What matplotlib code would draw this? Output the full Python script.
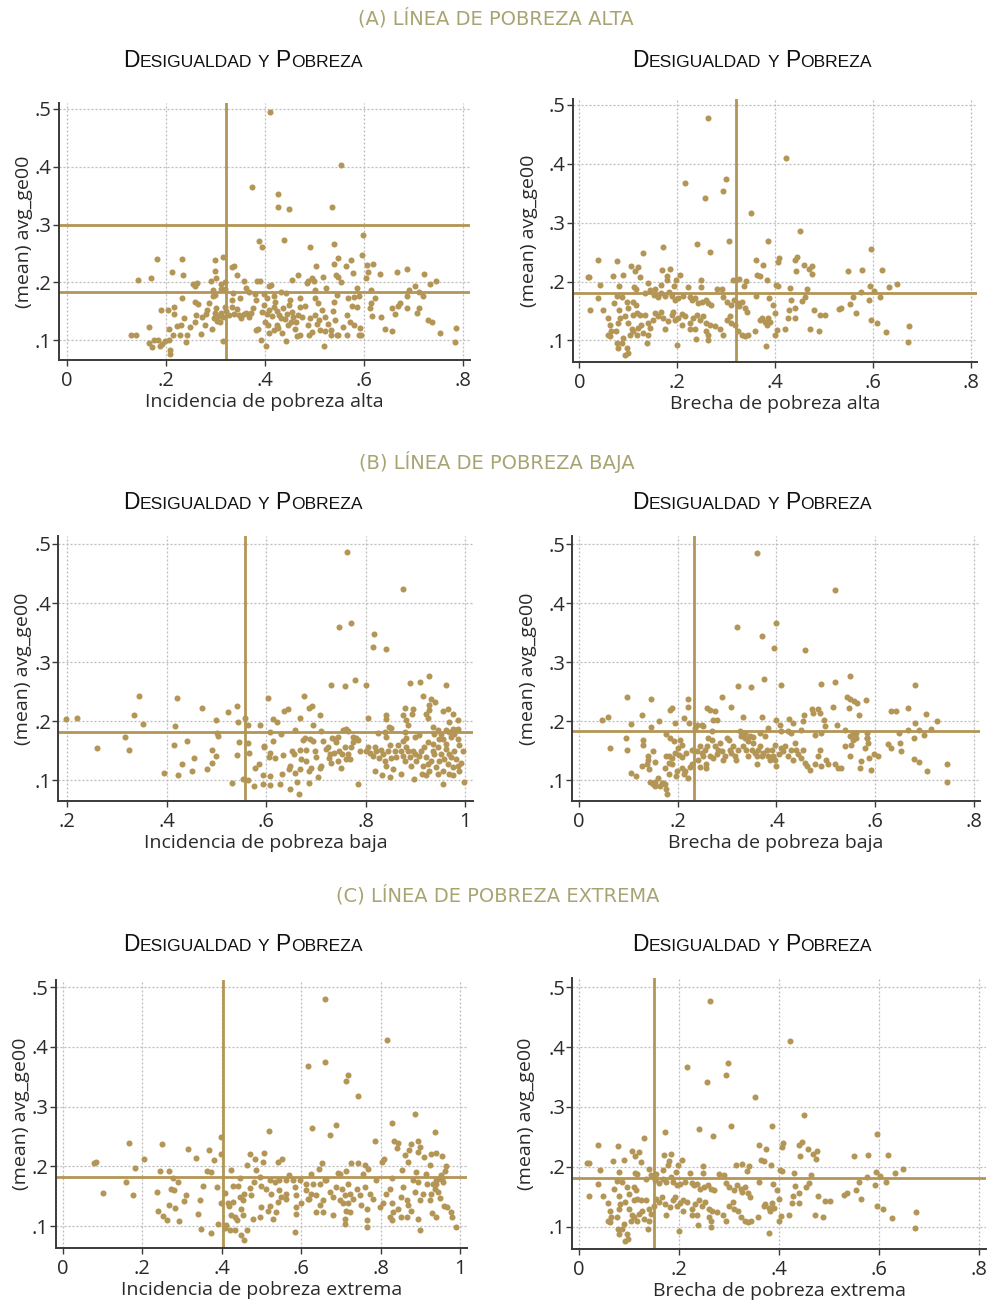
import matplotlib
matplotlib.use("Agg")
import matplotlib.pyplot as plt

# ---------------- data ----------------
ytick_vals = [0.1, 0.2, 0.3, 0.4, 0.5]
ytick_labels = [".1", ".2", ".3", ".4", ".5"]
xticks_gap = [0, 0.2, 0.4, 0.6, 0.8]
xticks_gap_labels = ["0", ".2", ".4", ".6", ".8"]
xticks_inc_alta = [0, 0.2, 0.4, 0.6, 0.8]
xticks_inc_alta_labels = ["0", ".2", ".4", ".6", ".8"]
xticks_inc_baja = [0.2, 0.4, 0.6, 0.8, 1.0]
xticks_inc_baja_labels = [".2", ".4", ".6", ".8", "1"]
xticks_inc_ext = [0, 0.2, 0.4, 0.6, 0.8, 1.0]
xticks_inc_ext_labels = ["0", ".2", ".4", ".6", ".8", "1"]

row_titles = ["(A) LÍNEA DE POBREZA ALTA", "(B) LÍNEA DE POBREZA BAJA", "(C) LÍNEA DE POBREZA EXTREMA"]
xlabels = ["Incidencia de pobreza alta", "Brecha de pobreza alta",
           "Incidencia de pobreza baja", "Brecha de pobreza baja",
           "Incidencia de pobreza extrema", "Brecha de pobreza extrema"]
ylabel = "(mean) avg_ge00"

# reference lines (vertical = mean of x, horizontal = mean of y)
alta_inc_v, alta_inc_h = 0.322, [0.183, 0.30]
alta_gap_v, alta_gap_h = 0.320, [0.180]
baja_inc_v, baja_inc_h = 0.557, [0.182]
baja_gap_v, baja_gap_h = 0.234, [0.183]
ext_inc_v, ext_inc_h = 0.403, [0.183]
ext_gap_v, ext_gap_h = 0.151, [0.182]

alta_inc_pts = [
    (0.41,0.495),(0.554,0.403),(0.374,0.365),(0.426,0.353),(0.426,0.33),(0.448,0.327),(0.535,0.33),
    (0.597,0.282),(0.387,0.272),(0.393,0.262),(0.438,0.273),(0.49,0.262),(0.54,0.267),
    (0.182,0.241),(0.232,0.24),(0.299,0.238),(0.314,0.244),(0.334,0.226),(0.338,0.228),(0.299,0.219),
    (0.211,0.218),(0.235,0.212),(0.144,0.205),(0.17,0.208),(0.3,0.207),(0.29,0.202),(0.255,0.197),
    (0.262,0.199),(0.258,0.193),(0.31,0.198),(0.318,0.2),(0.343,0.213),(0.357,0.203),(0.384,0.202),
    (0.389,0.203),(0.408,0.193),(0.411,0.196),(0.455,0.205),(0.466,0.212),(0.484,0.199),(0.486,0.203),
    (0.494,0.208),(0.499,0.203),(0.502,0.228),(0.516,0.209),(0.543,0.212),(0.548,0.209),(0.553,0.2),
    (0.54,0.232),(0.548,0.242),(0.564,0.229),(0.573,0.238),(0.577,0.217),(0.595,0.247),(0.605,0.23),
    (0.618,0.232),(0.603,0.208),(0.607,0.218),(0.632,0.215),(0.667,0.218),(0.687,0.223),(0.722,0.215),
    (0.733,0.197),(0.745,0.202),(0.703,0.193),(0.691,0.187),(0.71,0.183),
    (0.294,0.187),(0.298,0.178),(0.294,0.177),(0.31,0.188),(0.319,0.189),(0.232,0.173),(0.259,0.166),
    (0.264,0.162),(0.336,0.181),(0.334,0.17),(0.349,0.173),(0.362,0.19),(0.367,0.184),(0.38,0.18),
    (0.382,0.17),(0.397,0.18),(0.403,0.173),(0.417,0.176),(0.421,0.167),(0.432,0.183),(0.443,0.181),
    (0.451,0.17),(0.471,0.173),(0.5,0.187),(0.501,0.173),(0.506,0.164),(0.523,0.19),(0.539,0.167),
    (0.546,0.178),(0.567,0.173),(0.58,0.174),(0.585,0.19),(0.589,0.177),(0.614,0.187),(0.622,0.173),
    (0.614,0.164),(0.687,0.177),(0.72,0.176),
    (0.189,0.153),(0.204,0.152),(0.215,0.158),(0.216,0.145),(0.166,0.123),(0.129,0.11),(0.139,0.11),
    (0.206,0.119),(0.223,0.124),(0.213,0.109),(0.165,0.095),(0.172,0.088),(0.175,0.101),(0.184,0.101),
    (0.188,0.091),(0.191,0.094),(0.198,0.098),(0.205,0.1),(0.208,0.083),(0.208,0.077),(0.229,0.11),
    (0.231,0.126),(0.237,0.138),(0.24,0.097),(0.243,0.109),(0.249,0.123),(0.259,0.132),(0.26,0.144),
    (0.27,0.111),(0.273,0.141),(0.278,0.127),(0.281,0.145),(0.283,0.152),(0.287,0.164),(0.292,0.12),
    (0.296,0.138),(0.299,0.147),(0.301,0.155),(0.303,0.133),(0.306,0.142),(0.308,0.131),(0.311,0.148),
    (0.314,0.14),(0.315,0.098),(0.318,0.158),(0.322,0.151),(0.328,0.144),(0.333,0.158),(0.337,0.146),
    (0.344,0.154),(0.347,0.144),(0.351,0.139),(0.357,0.145),(0.361,0.148),(0.367,0.141),(0.372,0.148),
    (0.376,0.155),(0.381,0.117),(0.385,0.12),
    (0.393,0.149),(0.398,0.161),(0.403,0.145),(0.408,0.152),(0.413,0.142),(0.419,0.158),(0.424,0.151),
    (0.428,0.144),(0.432,0.138),(0.437,0.155),(0.444,0.146),(0.448,0.161),(0.454,0.149),(0.457,0.141),
    (0.462,0.131),(0.467,0.144),(0.471,0.158),(0.481,0.16),(0.4,0.131),(0.405,0.126),(0.408,0.112),
    (0.417,0.117),(0.424,0.127),(0.427,0.122),(0.434,0.113),(0.44,0.137),(0.447,0.126),(0.453,0.132),
    (0.461,0.12),(0.464,0.108),(0.471,0.109),(0.474,0.141),(0.486,0.126),(0.491,0.138),(0.494,0.115),
    (0.501,0.144),(0.504,0.129),(0.508,0.135),(0.511,0.117),(0.514,0.152),(0.521,0.141),(0.528,0.129),
    (0.533,0.117),(0.538,0.151),(0.541,0.135),(0.548,0.109),(0.558,0.123),(0.565,0.144),(0.572,0.132),
    (0.576,0.16),(0.579,0.127),(0.585,0.158),(0.589,0.109),(0.592,0.122),(0.612,0.155),(0.615,0.142),
    (0.634,0.141),(0.642,0.12),(0.656,0.116),(0.657,0.155),(0.663,0.145),(0.668,0.16),(0.673,0.164),
    (0.686,0.156),(0.707,0.148),(0.71,0.155),(0.73,0.135),(0.737,0.131),(0.754,0.113),(0.786,0.122),
    (0.784,0.097),(0.52,0.09),(0.391,0.101),(0.402,0.091),(0.442,0.098),(0.489,0.109),(0.521,0.116),
    (0.533,0.109),(0.545,0.109),(0.566,0.11),(0.593,0.109),
]

alta_gap_pts = [
    (0.263,0.477),(0.423,0.41),(0.217,0.367),(0.299,0.374),(0.294,0.353),(0.257,0.342),(0.352,0.316),
    (0.451,0.286),(0.305,0.269),(0.386,0.269),(0.24,0.263),(0.172,0.258),(0.268,0.251),(0.131,0.248),
    (0.039,0.237),(0.078,0.235),(0.106,0.226),(0.121,0.225),(0.113,0.218),(0.596,0.255),
    (0.361,0.237),(0.375,0.229),(0.364,0.212),(0.37,0.209),(0.384,0.203),(0.408,0.24),(0.407,0.233),
    (0.44,0.237),(0.446,0.241),(0.459,0.229),(0.469,0.221),(0.476,0.226),(0.475,0.213),(0.442,0.218),
    (0.55,0.218),(0.578,0.22),(0.619,0.219),(0.649,0.196),(0.633,0.19),(0.594,0.192),(0.576,0.183),
    (0.603,0.184),(0.615,0.174),(0.592,0.169),(0.56,0.174),(0.554,0.162),(0.565,0.146),(0.536,0.156),
    (0.531,0.153),(0.596,0.135),(0.608,0.129),(0.626,0.115),(0.675,0.124),(0.672,0.097),
    (0.479,0.152),(0.492,0.143),(0.502,0.143),(0.472,0.119),(0.489,0.116),
    (0.017,0.207),(0.02,0.207),(0.042,0.194),(0.081,0.192),(0.038,0.172),(0.021,0.152),(0.049,0.151),
    (0.068,0.209),(0.09,0.212),(0.124,0.208),(0.112,0.19),(0.116,0.188),(0.141,0.197),(0.155,0.188),
    (0.168,0.194),(0.17,0.22),(0.185,0.221),(0.18,0.21),(0.179,0.203),(0.198,0.203),(0.206,0.211),
    (0.194,0.192),(0.223,0.19),(0.248,0.202),(0.248,0.19),(0.281,0.188),(0.291,0.187),(0.314,0.203),
    (0.327,0.204),(0.337,0.193),(0.341,0.201),(0.403,0.194),(0.407,0.193),(0.431,0.189),(0.465,0.187),
    (0.077,0.176),(0.087,0.174),(0.097,0.166),(0.11,0.166),(0.115,0.161),(0.1,0.155),(0.081,0.151),
    (0.07,0.163),
    (0.134,0.18),(0.144,0.186),(0.153,0.178),(0.161,0.173),(0.168,0.18),(0.175,0.175),(0.184,0.183),
    (0.189,0.175),(0.196,0.169),(0.202,0.172),(0.213,0.175),(0.226,0.173),(0.23,0.169),(0.236,0.172),
    (0.243,0.163),(0.25,0.166),(0.259,0.169),(0.264,0.163),(0.27,0.161),
    (0.294,0.173),(0.301,0.166),(0.311,0.161),(0.317,0.169),(0.324,0.163),(0.327,0.158),(0.332,0.166),
    (0.339,0.156),(0.342,0.149),
    (0.361,0.175),(0.388,0.172),(0.396,0.161),(0.4,0.147),(0.386,0.139),(0.373,0.138),(0.38,0.131),
    (0.383,0.127),(0.39,0.131),(0.37,0.134),(0.4,0.109),(0.405,0.118),(0.42,0.119),(0.427,0.139),
    (0.429,0.152),(0.441,0.156),(0.441,0.139),(0.461,0.173),(0.455,0.167),(0.433,0.168),
    (0.059,0.139),(0.063,0.127),(0.065,0.116),(0.063,0.107),(0.058,0.11),(0.08,0.13),(0.076,0.116),
    (0.083,0.138),(0.093,0.141),(0.1,0.13),(0.107,0.119),(0.104,0.11),(0.09,0.104),(0.087,0.096),
    (0.078,0.096),(0.08,0.087),(0.097,0.088),(0.099,0.079),(0.093,0.076),(0.11,0.116),(0.117,0.11),
    (0.121,0.121),(0.127,0.127),(0.131,0.113),(0.138,0.096),(0.141,0.11),(0.11,0.144),(0.117,0.147),
    (0.124,0.144),(0.134,0.144),(0.14,0.13),(0.144,0.121),(0.151,0.134),(0.155,0.147),(0.161,0.141),
    (0.167,0.149),(0.172,0.138),(0.175,0.119),(0.182,0.133),(0.189,0.144),(0.192,0.149),(0.196,0.135),
    (0.202,0.139),(0.209,0.145),(0.216,0.141),(0.226,0.13),(0.233,0.138),(0.24,0.144),(0.247,0.135),
    (0.253,0.141),(0.26,0.13),(0.267,0.127),(0.26,0.116),(0.264,0.11),(0.236,0.119),(0.226,0.119),
    (0.209,0.127),(0.2,0.092),(0.238,0.103),(0.264,0.1),(0.277,0.124),(0.288,0.119),(0.294,0.11),
    (0.301,0.135),(0.308,0.141),(0.311,0.13),(0.318,0.126),(0.325,0.116),(0.332,0.11),(0.339,0.107),
    (0.345,0.11),(0.359,0.116),(0.381,0.09),
]

baja_inc_pts = [
    (0.763,0.487),(0.875,0.424),(0.747,0.359),(0.771,0.367),(0.817,0.348),(0.815,0.326),(0.84,0.322),
    (0.731,0.261),(0.758,0.259),(0.779,0.27),(0.8,0.262),(0.889,0.264),(0.91,0.266),(0.927,0.276),
    (0.961,0.262),
    (0.197,0.203),(0.221,0.206),(0.26,0.154),(0.316,0.173),(0.325,0.151),(0.335,0.211),(0.345,0.242),
    (0.353,0.196),(0.395,0.113),(0.414,0.16),(0.417,0.192),(0.42,0.239),(0.422,0.109),(0.43,0.127),
    (0.442,0.167),(0.452,0.116),(0.456,0.137),(0.472,0.222),(0.481,0.12),(0.492,0.151),(0.492,0.13),
    (0.499,0.202),(0.499,0.141),(0.502,0.18),(0.504,0.175),(0.524,0.216),(0.532,0.096),(0.541,0.226),
    (0.541,0.143),(0.543,0.199),(0.546,0.165),(0.558,0.205),(0.554,0.103),(0.564,0.1),(0.564,0.193),
    (0.564,0.164),(0.566,0.146),(0.576,0.091),(0.578,0.121),(0.586,0.128),(0.588,0.194),(0.593,0.094),
    (0.595,0.158),(0.594,0.109),
    (0.604,0.239),(0.677,0.242),(0.635,0.217),(0.644,0.22),(0.687,0.222),(0.692,0.226),(0.708,0.21),
    (0.613,0.203),(0.622,0.199),(0.667,0.205),(0.657,0.185),(0.695,0.193),(0.711,0.183),(0.607,0.182),
    (0.629,0.179),(0.613,0.166),(0.596,0.157),(0.607,0.147),(0.605,0.139),(0.618,0.138),(0.633,0.143),
    (0.632,0.111),(0.645,0.119),(0.648,0.125),(0.651,0.15),(0.655,0.145),(0.668,0.151),(0.671,0.136),
    (0.675,0.169),(0.678,0.172),(0.681,0.151),(0.688,0.17),(0.695,0.167),(0.698,0.15),(0.701,0.139),
    (0.708,0.121),(0.711,0.125),(0.715,0.167),(0.72,0.153),(0.725,0.156),(0.728,0.145),(0.733,0.172),
    (0.738,0.17),(0.741,0.165),(0.745,0.133),(0.747,0.15),(0.751,0.121),(0.753,0.145),(0.758,0.156),
    (0.761,0.136),(0.765,0.145),(0.768,0.136),(0.771,0.156),(0.775,0.165),(0.78,0.172),(0.785,0.169),
    (0.788,0.15),(0.785,0.093),(0.755,0.186),(0.76,0.187),(0.765,0.183),(0.775,0.174),(0.745,0.174),
    (0.731,0.129),(0.727,0.138),(0.736,0.146),(0.681,0.133),(0.691,0.121),(0.687,0.115),(0.669,0.119),
    (0.658,0.113),(0.661,0.098),(0.647,0.085),(0.665,0.077),(0.628,0.093),(0.608,0.107),(0.607,0.092),
    (0.705,0.105),(0.686,0.096),
    (0.805,0.205),(0.841,0.21),(0.841,0.203),(0.846,0.191),(0.851,0.189),(0.825,0.18),(0.838,0.182),
    (0.841,0.174),(0.875,0.21),(0.879,0.222),(0.895,0.22),(0.881,0.202),(0.885,0.193),(0.893,0.213),
    (0.875,0.166),(0.878,0.182),(0.881,0.172),(0.898,0.174),(0.908,0.176),(0.915,0.242),(0.931,0.237),
    (0.94,0.233),(0.921,0.213),(0.925,0.205),(0.928,0.219),(0.935,0.19),(0.938,0.179),(0.945,0.185),
    (0.955,0.218),(0.965,0.22),(0.975,0.213),(0.968,0.199),(0.985,0.202),(0.981,0.185),(0.978,0.179),
    (0.967,0.182),(0.951,0.179),(0.948,0.17),(0.956,0.17),(0.971,0.173),(0.928,0.227),
    (0.801,0.15),(0.805,0.156),(0.809,0.146),(0.815,0.142),(0.818,0.156),(0.821,0.15),(0.827,0.138),
    (0.831,0.151),(0.835,0.145),(0.838,0.133),(0.841,0.125),(0.845,0.15),(0.848,0.159),(0.851,0.138),
    (0.855,0.119),(0.858,0.15),(0.861,0.139),(0.865,0.159),(0.871,0.15),(0.875,0.142),(0.878,0.133),
    (0.881,0.156),(0.885,0.15),(0.888,0.139),(0.891,0.125),(0.895,0.15),(0.898,0.145),(0.901,0.133),
    (0.908,0.142),(0.911,0.15),(0.915,0.125),(0.918,0.156),(0.921,0.139),(0.925,0.127),(0.928,0.116),
    (0.931,0.133),(0.935,0.15),(0.938,0.145),(0.941,0.122),(0.945,0.156),(0.948,0.133),(0.951,0.145),
    (0.955,0.116),(0.958,0.136),(0.961,0.153),(0.965,0.127),(0.968,0.145),(0.971,0.139),(0.975,0.122),
    (0.978,0.15),(0.981,0.136),(0.985,0.125),(0.988,0.116),(0.991,0.13),(0.995,0.15),(0.998,0.097),
    (0.956,0.094),(0.896,0.103),(0.87,0.11),(0.848,0.105),(0.833,0.109),(0.818,0.116),(0.968,0.11),
    (0.975,0.109),(0.921,0.109),(0.913,0.111),(0.945,0.111),(0.935,0.162),(0.925,0.165),(0.961,0.162),
    (0.988,0.159),(0.985,0.17),(0.975,0.187),(0.985,0.187),(0.961,0.185),
]

baja_gap_pts = [
    (0.361,0.486),(0.518,0.423),(0.321,0.359),(0.371,0.345),(0.398,0.366),(0.394,0.324),(0.457,0.321),
    (0.374,0.271),(0.323,0.26),(0.348,0.258),(0.409,0.262),(0.489,0.264),(0.518,0.266),(0.549,0.276),
    (0.68,0.262),(0.744,0.127),(0.744,0.098),
    (0.098,0.242),(0.147,0.238),(0.048,0.203),(0.059,0.207),(0.106,0.196),(0.128,0.211),(0.163,0.2),
    (0.146,0.19),(0.064,0.154),(0.095,0.172),(0.097,0.152),(0.131,0.168),(0.13,0.16),(0.151,0.149),
    (0.155,0.131),(0.106,0.112),(0.116,0.108),(0.128,0.124),(0.14,0.135),(0.14,0.142),(0.138,0.127),
    (0.143,0.12),(0.145,0.097),(0.15,0.093),(0.155,0.098),(0.161,0.104),(0.165,0.091),(0.168,0.095),
    (0.175,0.094),(0.177,0.085),(0.178,0.077),(0.171,0.096),(0.155,0.09),
    (0.175,0.121),(0.182,0.129),(0.188,0.127),(0.183,0.11),(0.196,0.108),(0.198,0.115),(0.208,0.121),
    (0.212,0.11),(0.215,0.115),(0.222,0.104),(0.225,0.123),(0.229,0.127),(0.229,0.152),(0.218,0.146),
    (0.208,0.139),(0.202,0.143),(0.195,0.146),(0.188,0.138),(0.182,0.142),(0.176,0.142),
    (0.176,0.179),(0.184,0.172),(0.192,0.166),(0.194,0.198),(0.185,0.22),(0.188,0.223),(0.212,0.206),
    (0.222,0.238),(0.222,0.225),(0.223,0.198),(0.205,0.168),(0.208,0.16),(0.2,0.155),
    (0.235,0.189),(0.239,0.194),(0.249,0.194),(0.252,0.192),(0.259,0.223),(0.266,0.22),(0.276,0.217),
    (0.272,0.203),(0.279,0.202),(0.27,0.183),(0.262,0.172),(0.269,0.169),(0.259,0.158),(0.255,0.152),
    (0.249,0.146),(0.245,0.158),(0.252,0.141),(0.242,0.135),(0.239,0.149),(0.245,0.123),(0.257,0.127),
    (0.257,0.121),(0.266,0.141),(0.272,0.138),(0.279,0.144),(0.282,0.152),(0.276,0.158),(0.286,0.164),
    (0.289,0.149),(0.292,0.135),(0.296,0.141),(0.299,0.172),(0.303,0.169),(0.306,0.152),(0.309,0.146),
    (0.313,0.158),(0.316,0.141),(0.319,0.135),(0.323,0.152),(0.326,0.183),(0.329,0.175),(0.333,0.158),
    (0.336,0.172),(0.339,0.152),(0.343,0.141),(0.343,0.166),(0.346,0.175),(0.35,0.152),(0.353,0.163),
    (0.356,0.146),(0.36,0.141),(0.36,0.127),(0.363,0.152),(0.366,0.158),(0.37,0.141),(0.373,0.146),
    (0.376,0.175),(0.38,0.152),(0.383,0.141),(0.387,0.135),(0.39,0.152),(0.393,0.141),(0.397,0.135),
    (0.4,0.124),(0.405,0.144),(0.397,0.16),(0.41,0.155),(0.413,0.149),(0.417,0.158),(0.424,0.141),
    (0.43,0.152),(0.434,0.135),(0.437,0.163),(0.44,0.152),(0.444,0.144),(0.45,0.138),(0.454,0.152),
    (0.457,0.129),(0.461,0.124),(0.467,0.118),(0.477,0.127),(0.483,0.141),(0.487,0.152),(0.491,0.124),
    (0.501,0.135),(0.504,0.127),(0.518,0.127),(0.524,0.121),(0.531,0.121),(0.538,0.158),(0.548,0.141),
    (0.551,0.16),(0.555,0.169),(0.561,0.18),(0.568,0.121),(0.571,0.132),(0.578,0.155),(0.582,0.172),
    (0.585,0.163),(0.588,0.138),(0.592,0.118),(0.598,0.144),(0.606,0.142),
    (0.29,0.241),(0.308,0.225),(0.333,0.208),(0.371,0.207),(0.4,0.203),(0.408,0.193),(0.425,0.204),
    (0.434,0.197),(0.43,0.181),(0.45,0.186),(0.454,0.201),(0.456,0.211),(0.471,0.221),(0.474,0.214),
    (0.484,0.221),(0.487,0.214),(0.496,0.203),(0.499,0.192),(0.477,0.176),(0.491,0.18),(0.424,0.183),
    (0.41,0.183),(0.383,0.189),(0.366,0.18),(0.353,0.173),(0.336,0.18),
    (0.514,0.224),(0.523,0.194),(0.538,0.186),(0.546,0.222),(0.543,0.242),(0.549,0.237),(0.557,0.234),
    (0.563,0.231),(0.567,0.211),(0.58,0.236),(0.548,0.175),(0.555,0.178),(0.561,0.172),(0.584,0.181),
    (0.584,0.172),
    (0.631,0.217),(0.642,0.218),(0.666,0.222),(0.703,0.213),(0.725,0.2),(0.68,0.197),(0.666,0.186),
    (0.647,0.181),(0.649,0.164),(0.652,0.15),(0.625,0.162),(0.631,0.155),(0.689,0.186),(0.699,0.177),
    (0.713,0.187),(0.679,0.172),(0.679,0.136),(0.689,0.131),(0.705,0.115),
]

ext_inc_pts = [
    (0.659,0.48),(0.815,0.412),(0.618,0.368),(0.659,0.375),(0.712,0.343),(0.718,0.353),(0.742,0.318),
    (0.886,0.288),(0.936,0.257),(0.829,0.272),(0.785,0.242),(0.688,0.27),(0.671,0.252),(0.628,0.264),
    (0.518,0.26),
    (0.078,0.205),(0.083,0.207),(0.1,0.155),(0.167,0.239),(0.181,0.198),(0.159,0.174),(0.177,0.152),
    (0.205,0.213),(0.237,0.157),(0.24,0.126),(0.252,0.117),(0.263,0.11),(0.249,0.237),(0.245,0.192),
    (0.266,0.192),(0.268,0.136),(0.283,0.13),(0.271,0.162),(0.279,0.16),(0.291,0.108),(0.305,0.142),
    (0.311,0.153),(0.316,0.229),(0.336,0.214),(0.339,0.12),(0.345,0.144),(0.347,0.096),(0.352,0.167),
    (0.362,0.193),(0.367,0.227),(0.373,0.089),(0.373,0.19),(0.38,0.21),(0.391,0.103),(0.389,0.165),
    (0.398,0.25),(0.398,0.22),(0.41,0.102),(0.408,0.097),(0.398,0.139),(0.276,0.18),(0.289,0.174),
    (0.422,0.194),(0.408,0.155),(0.415,0.138),(0.419,0.133),(0.428,0.14),(0.429,0.168),(0.44,0.167),
    (0.445,0.18),(0.445,0.149),(0.449,0.129),(0.453,0.118),(0.434,0.115),(0.439,0.11),(0.424,0.118),
    (0.421,0.093),(0.432,0.093),(0.449,0.085),(0.457,0.077),(0.464,0.094),(0.478,0.112),(0.495,0.115),
    (0.499,0.132),(0.516,0.126),(0.529,0.112),(0.537,0.124),(0.52,0.133),(0.524,0.154),(0.541,0.14),
    (0.55,0.149),(0.562,0.146),(0.561,0.154),(0.545,0.16),(0.533,0.174),(0.52,0.177),(0.512,0.163),
    (0.499,0.168),(0.495,0.182),(0.487,0.194),(0.482,0.174),(0.47,0.164),(0.474,0.152),(0.457,0.154),
    (0.453,0.143),(0.463,0.202),(0.47,0.22),(0.484,0.213),(0.503,0.208),(0.505,0.223),(0.541,0.208),
    (0.552,0.212),(0.569,0.185),(0.545,0.178),(0.562,0.177),(0.579,0.177),(0.583,0.166),(0.587,0.152),
    (0.587,0.132),(0.587,0.121),(0.585,0.09),(0.6,0.138),(0.596,0.177),(0.611,0.171),(0.613,0.16),
    (0.617,0.146),(0.625,0.154),(0.629,0.171),(0.638,0.152),(0.646,0.171),(0.655,0.143),(0.659,0.177),
    (0.671,0.157),(0.68,0.149),(0.688,0.166),(0.697,0.143),(0.703,0.163),(0.709,0.152),(0.718,0.171),
    (0.722,0.154),(0.73,0.146),(0.739,0.163),(0.747,0.152),(0.751,0.135),(0.76,0.166),(0.764,0.129),
    (0.772,0.154),(0.781,0.146),(0.789,0.177),(0.797,0.132),(0.806,0.138),(0.814,0.154),(0.823,0.163),
    (0.829,0.138),(0.831,0.124),(0.844,0.129),(0.85,0.149),(0.856,0.166),(0.865,0.143),(0.869,0.135),
    (0.875,0.126),(0.886,0.157),(0.894,0.174),(0.898,0.143),(0.907,0.154),(0.915,0.171),(0.924,0.143),
    (0.932,0.171),(0.898,0.093),(0.894,0.112),(0.865,0.115),(0.852,0.115),(0.823,0.115),(0.827,0.11),
    (0.764,0.11),(0.764,0.098),(0.709,0.112),(0.709,0.104),(0.68,0.118),(0.655,0.124),(0.638,0.124),
    (0.619,0.146),(0.646,0.135),(0.713,0.126),(0.722,0.124),(0.705,0.138),(0.718,0.138),
    (0.755,0.188),(0.697,0.188),(0.663,0.177),(0.827,0.18),(0.882,0.177),(0.94,0.177),
    (0.834,0.242),(0.843,0.24),(0.841,0.231),(0.86,0.219),(0.871,0.228),(0.877,0.237),(0.894,0.242),
    (0.898,0.232),(0.894,0.224),(0.909,0.215),(0.927,0.22),(0.938,0.222),(0.955,0.218),(0.869,0.207),
    (0.854,0.194),(0.888,0.19),(0.913,0.187),(0.923,0.202),(0.802,0.208),(0.808,0.213),(0.76,0.202),
    (0.768,0.196),(0.724,0.206),(0.743,0.206),(0.713,0.192),(0.692,0.189),(0.653,0.205),(0.645,0.195),
    (0.624,0.187),
    (0.963,0.2),(0.961,0.193),(0.951,0.185),(0.944,0.179),(0.955,0.179),(0.957,0.174),(0.938,0.171),
    (0.937,0.163),(0.943,0.157),(0.926,0.154),(0.95,0.148),(0.929,0.122),(0.94,0.116),(0.958,0.134),
    (0.966,0.132),(0.976,0.123),(0.988,0.098),(0.978,0.115),
]

# the "brecha extrema" cloud in the reference is the same cloud as "brecha alta"
ext_gap_pts = list(alta_gap_pts)

# ---------------- style ----------------
GOLD = "#B39555"
KHAKI = "#A8A472"
GRID = "#BDBDBD"
SPINE = "#3A3A3A"
TXT = "#2A2A2A"
W, H = 988, 1304
plt.rcParams["font.family"] = ["Open Sans", "DejaVu Sans"]

fig = plt.figure(figsize=(W / 100, H / 100), dpi=100)


def px_rect(x0, y0, x1, y1):
    return [x0 / W, 1 - y1 / H, (x1 - x0) / W, (y1 - y0) / H]


def panel(box, pts, xlim, ylim, xt, xtl, vline, hlines, xlabel, ylabel_x):
    x0, y0, x1, y1 = box
    ax = fig.add_axes(px_rect(x0, y0, x1, y1))
    xs = [p[0] for p in pts]
    ys = [p[1] for p in pts]
    ax.set_xlim(*xlim)
    ax.set_ylim(*ylim)
    ax.set_xticks(xt, xtl)
    ax.set_yticks(ytick_vals, ytick_labels)
    ax.grid(True, linestyle=(0, (1.6, 1.6)), color=GRID, linewidth=0.9, zorder=0)
    ax.set_axisbelow(True)
    for h in hlines:
        ax.axhline(h, color=GOLD, linewidth=2.0, zorder=2)
    ax.axvline(vline, color=GOLD, linewidth=2.0, zorder=2)
    ax.scatter(xs, ys, s=19, color=GOLD, linewidths=0, zorder=3)
    for s in ("top", "right"):
        ax.spines[s].set_visible(False)
    for s in ("left", "bottom"):
        ax.spines[s].set_color(SPINE)
        ax.spines[s].set_linewidth(1.4)
    ax.tick_params(axis="both", length=4, width=1.0, color=SPINE, labelsize=14.5,
                   labelcolor=TXT)
    ax.tick_params(axis="x", pad=4)
    ax.tick_params(axis="y", pad=1.0)
    ax.set_xlabel(xlabel, fontsize=14, color=TXT)
    ax.xaxis.set_label_coords(0.5, -33.0 / (y1 - y0))
    ax.set_ylabel(ylabel, fontsize=14, color=TXT)
    ax.yaxis.set_label_coords((ylabel_x - x0) / (x1 - x0), 0.5)
    return ax


panel((58.7, 103, 470, 360), alta_inc_pts, (-0.017, 0.814), (0.066, 0.51),
      xticks_inc_alta, xticks_inc_alta_labels, alta_inc_v, alta_inc_h, xlabels[0], 33)
panel((572.7, 99, 977, 361.7), alta_gap_pts, (-0.0135, 0.813), (0.064, 0.51),
      xticks_gap, xticks_gap_labels, alta_gap_v, alta_gap_h, xlabels[1], 538)
panel((58.3, 536, 473, 801), baja_inc_pts, (0.1825, 1.0155), (0.065, 0.5135),
      xticks_inc_baja, xticks_inc_baja_labels, baja_inc_v, baja_inc_h, xlabels[2], 32)
panel((572, 536, 980, 801), baja_gap_pts, (-0.0135, 0.8115), (0.065, 0.514),
      xticks_gap, xticks_gap_labels, baja_gap_v, baja_gap_h, xlabels[3], 537)
panel((55.7, 980, 467.3, 1248.3), ext_inc_pts, (-0.018, 1.0176), (0.063, 0.512),
      xticks_inc_ext, xticks_inc_ext_labels, ext_inc_v, ext_inc_h, xlabels[4], 30)
panel((572, 978.3, 986, 1249), ext_gap_pts, (-0.0134, 0.815), (0.0627, 0.515),
      xticks_gap, xticks_gap_labels, ext_gap_v, ext_gap_h, xlabels[5], 535)

# row titles
for (cx, base), t in zip([(496, 24.5), (497, 469.3), (497.5, 901.7)], row_titles):
    fig.text(cx / W, 1 - base / H, t, ha="center", va="baseline", fontsize=14,
             color=KHAKI, family=["DejaVu Sans"])

# small-caps panel titles
renderer = fig.canvas.get_renderer()
BIG, SMALL = 16.5, 12.6
GAP = 6.0


def small_caps_title(cx, base):
    parts = [("D", BIG, 0), ("ESIGUALDAD", SMALL, GAP), ("Y", SMALL, GAP), ("P", BIG, 0), ("OBREZA", SMALL, 0)]
    objs = []
    for s, size, gap in parts:
        t = fig.text(0, 1 - base / H, s, fontsize=size, family=["Liberation Sans", "DejaVu Sans"],
                     color="#111111", va="baseline", ha="left")
        objs.append((t, t.get_window_extent(renderer).width, gap))
    total = sum(w + g for _, w, g in objs)
    x = cx - total / 2
    for t, w, g in objs:
        t.set_x(x / W)
        x += w + g


for base in (66.7, 509.3, 950.7):
    small_caps_title(242.5, base)
    small_caps_title(752, base)

fig.savefig("out.png", dpi=100)
